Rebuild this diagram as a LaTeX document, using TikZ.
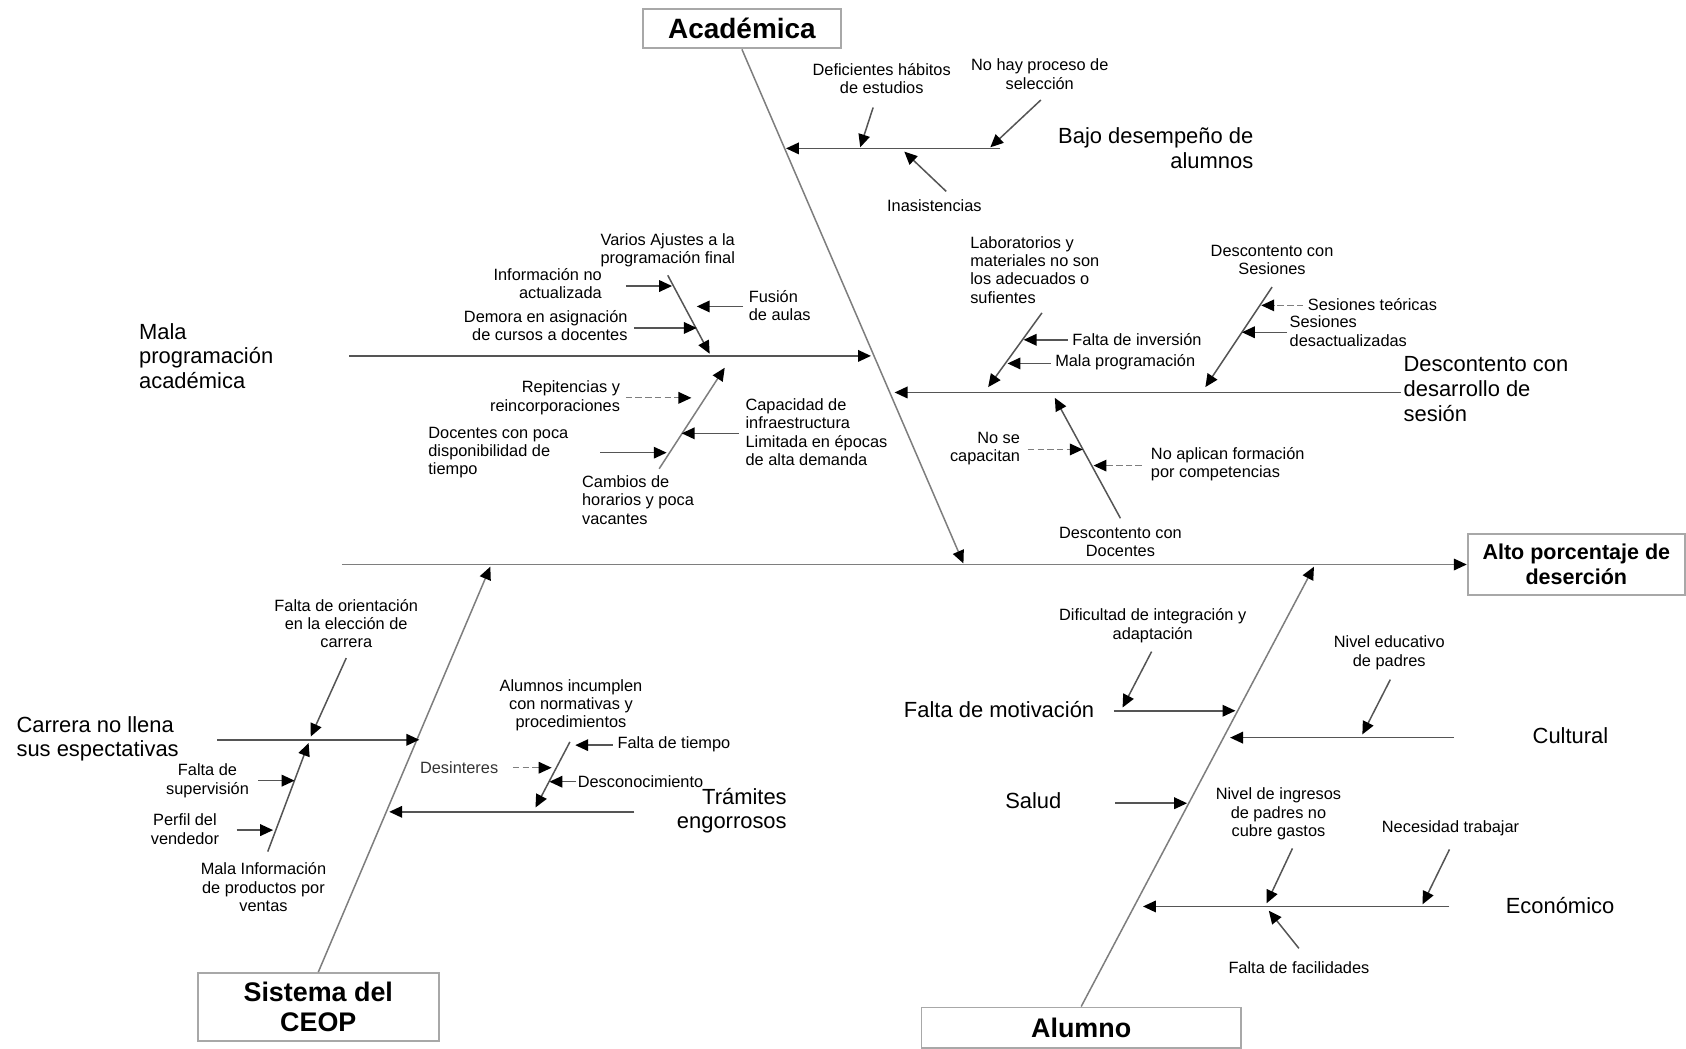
\documentclass[tikz,border=0pt]{standalone}
\usepackage{fontspec}
\setmainfont{Liberation Sans}
\usetikzlibrary{arrows.meta}
\definecolor{bonegray}{HTML}{7E7E7E}
\definecolor{twiggray}{HTML}{555555}
\definecolor{boxgray}{HTML}{A8A8A8}
\begin{document}
\begin{tikzpicture}[x=0.5pt,y=-0.5pt,
  bone/.style={draw=bonegray, line width=0.7pt},
  twig/.style={draw=twiggray, line width=0.7pt},
  faint/.style={draw=bonegray, line width=0.6pt, dash pattern=on 3pt off 1.5pt},
  head/.style={-{Triangle[length=6pt,width=5.4pt,color=black]}},
  catbox/.style={draw=boxgray, line width=0.9pt, fill=white, align=center, inner sep=0pt,
    font=\bfseries\fontsize{13}{14.5}\selectfont},
  lbl/.style={font=\fontsize{7.6}{8.5}\selectfont, inner sep=0pt},
  cause/.style={font=\fontsize{10.2}{11.5}\selectfont, inner sep=0pt},
]
\useasboundingbox (0,0) rectangle (1568,975);

% ---------- head and spine ----------
\node[catbox, font=\bfseries\fontsize{10}{11.5}\selectfont,
      minimum width=101pt, minimum height=28pt] (alto) at (1466,525) {Alto porcentaje de\\deserción};
\coordinate (spineL) at (318,525);
\draw[bone, head] (spineL) -- (alto.west);

% ---------- category boxes and main bones ----------
\node[catbox, minimum width=92pt, minimum height=18.5pt] (acad) at (690,26.5) {Académica};
\coordinate (acadEnd) at (896,524);
\draw[bone, head] (acad.south) -- (acadEnd);

\node[catbox, font=\bfseries\fontsize{12.5}{14}\selectfont,
      minimum width=112pt, minimum height=31.5pt] (ceop) at (296,936.5) {Sistema del\\CEOP};
\coordinate (ceopEnd) at (456,527);
\draw[bone, head] (ceop.north) -- (ceopEnd);

\node[catbox, font=\bfseries\fontsize{12.5}{14}\selectfont,
      minimum width=148.5pt, minimum height=19pt] (alum) at (1005.5,956) {Alumno};
\coordinate (alumEnd) at (1222,527);
\draw[bone, head] (alum.north) -- (alumEnd);

% ================= Académica =================
% Bajo desempeño de alumnos
\node[cause, align=right, anchor=east] (bajo) at (1166,138) {Bajo desempeño de\\alumnos};
\coordinate (bajoR) at (930,138);
\coordinate (bajoT) at (731,138);
\draw[twig, head] (bajoR) -- (bajoT);

\node[lbl, align=center] (habitos) at (820,73) {Deficientes hábitos\\de estudios};
\coordinate (habS) at (812,100);
\coordinate (habT) at (800,137);
\draw[twig, head] (habS) -- (habT);

\node[lbl, align=center] (selec) at (967,69) {No hay proceso de\\selección};
\coordinate (selS) at (968,93);
\coordinate (selT) at (921,137);
\draw[twig, head] (selS) -- (selT);

\node[lbl] (inasis) at (869,191) {Inasistencias};
\coordinate (inaS) at (880,178);
\coordinate (inaT) at (841,141);
\draw[twig, head] (inaS) -- (inaT);

% Mala programación académica
\node[cause, align=left, anchor=west] (malaprog) at (129,331) {Mala\\programación\\académica};
\coordinate (mpL) at (325,331);
\coordinate (mpT) at (810,331);
\draw[twig, head] (mpL) -- (mpT);

\node[lbl, align=center] (ajustes) at (621,233) {Varios Ajustes a la\\programación final};
\coordinate (ajS) at (621,256);
\coordinate (ajT) at (660,329);
\draw[twig, head] (ajS) -- (ajT);

\node[lbl, align=right, anchor=east] (infono) at (560,264) {Información no\\actualizada};
\coordinate (infS) at (582,266);
\coordinate (infT) at (625,266);
\draw[twig, head] (infS) -- (infT);

\node[lbl, align=left, anchor=west] (fusion) at (696,284) {Fusión\\de aulas};
\coordinate (fusS) at (691,285);
\coordinate (fusT) at (648,285);
\draw[twig, head] (fusS) -- (fusT);

\node[lbl, align=right, anchor=east] (demora) at (584,303) {Demora en asignación\\de cursos a docentes};
\coordinate (demS) at (590,305);
\coordinate (demT) at (648,305);
\draw[twig, head] (demS) -- (demT);

\node[lbl, align=left, anchor=west] (cambios) at (541,465) {Cambios de\\horarios y poca\\vacantes};
\coordinate (camS) at (613,436);
\coordinate (camT) at (674,342);
\draw[bone, head] (camS) -- (camT);

\node[lbl, align=right, anchor=east] (repit) at (577,370) {Repitencias y\\reincorporaciones};
\coordinate (repS) at (582,370);
\coordinate (repT) at (643,370);
\draw[faint, head] (repS) -- (repT);

\node[lbl, align=left, anchor=west] (capac) at (693,402) {Capacidad de\\infraestructura\\Limitada en épocas\\de alta demanda};
\coordinate (capS) at (687,403);
\coordinate (capT) at (634,403);
\draw[twig, head] (capS) -- (capT);

\node[lbl, align=left, anchor=west] (docpoca) at (398,421) {Docentes con poca\\disponibilidad de\\tiempo};
\coordinate (dpS) at (558,421);
\coordinate (dpT) at (620,421);
\draw[twig, head] (dpS) -- (dpT);

% Descontento con desarrollo de sesión
\node[cause, align=left, anchor=west, font=\fontsize{10.2}{11.75}\selectfont] (desarr) at (1305,362) {Descontento con\\desarrollo de\\sesión};
\coordinate (ddR) at (1303,365);
\coordinate (ddT) at (832,365);
\draw[twig, head] (ddR) -- (ddT);

\node[lbl, align=left, anchor=west] (labs) at (902,251) {Laboratorios y\\materiales no son\\los adecuados o\\sufientes};
\coordinate (labS) at (969,291);
\coordinate (labT) at (919,360);
\draw[twig, head] (labS) -- (labT);

\node[lbl, anchor=west] (inversion) at (997,316) {Falta de inversión};
\coordinate (invS) at (993,316);
\coordinate (invT) at (952,316);
\draw[twig, head] (invS) -- (invT);

\node[lbl, anchor=west] (malap2) at (981,337) {Mala programación};
\coordinate (mp2S) at (977,338);
\coordinate (mp2T) at (937,338);
\draw[twig, head] (mp2S) -- (mp2T);

\node[lbl, align=center] (sesiones) at (1183,242) {Descontento con\\Sesiones};
\coordinate (sesS) at (1183,267);
\coordinate (sesT) at (1121,360);
\draw[twig, head] (sesS) -- (sesT);

\node[lbl, anchor=west] (teoricas) at (1216,283) {Sesiones teóricas};
\coordinate (teoS) at (1212,284);
\coordinate (teoT) at (1173,284);
\draw[faint, head] (teoS) -- (teoT);

\node[lbl, align=left, anchor=west] (desact) at (1199,308) {Sesiones\\desactualizadas};
\coordinate (desS) at (1197,309);
\coordinate (desT) at (1155,309);
\draw[twig, head] (desS) -- (desT);

\node[lbl, align=center] (docentes) at (1042,504) {Descontento con\\Docentes};
\coordinate (docS) at (1042,482);
\coordinate (docT) at (981,370);
\draw[twig, head] (docS) -- (docT);

\node[lbl, align=right, anchor=east] (capacitan) at (949,417) {No se\\capacitan};
\coordinate (capaS) at (956,418);
\coordinate (capaT) at (1007,418);
\draw[faint, head] (capaS) -- (capaT);

\node[lbl, align=left, anchor=west] (aplican) at (1070,432) {No aplican formación\\por competencias};
\coordinate (aplS) at (1062,433);
\coordinate (aplT) at (1017,433);
\draw[faint, head] (aplS) -- (aplT);

% ================= Sistema del CEOP =================
\node[cause, align=left, anchor=west] (carrera) at (15,687) {Carrera no llena\\sus espectativas};
\coordinate (carL) at (202,688);
\coordinate (carT) at (390,688);
\draw[twig, head] (carL) -- (carT);

\node[lbl, align=center] (orient) at (322,580) {Falta de orientación\\en la elección de\\carrera};
\coordinate (oriS) at (322,612);
\coordinate (oriT) at (289,685);
\draw[twig, head] (oriS) -- (oriT);

\node[lbl, align=center] (malainfo) at (245,825) {Mala Información\\de productos por\\ventas};
\coordinate (miS) at (249,792);
\coordinate (miT) at (287,691);
\draw[twig, head] (miS) -- (miT);

\node[lbl, align=center] (superv) at (193,726) {Falta de\\supervisión};
\coordinate (supS) at (240,726);
\coordinate (supT) at (274,726);
\draw[twig, head] (supS) -- (supT);

\node[lbl, align=center] (perfil) at (172,771) {Perfil del\\vendedor};
\coordinate (perS) at (220,772);
\coordinate (perT) at (254,772);
\draw[twig, head] (perS) -- (perT);

\node[cause, align=right, anchor=east] (tramites) at (732,754) {Trámites\\engorrosos};
\coordinate (traR) at (590,755);
\coordinate (traT) at (362,755);
\draw[twig, head] (traR) -- (traT);

\node[lbl, align=center] (incumplen) at (531,656) {Alumnos incumplen\\con normativas y\\procedimientos};
\coordinate (incS) at (530,690);
\coordinate (incT) at (498,751);
\draw[twig, head] (incS) -- (incT);

\node[lbl, anchor=west] (tiempo) at (574,692) {Falta de tiempo};
\coordinate (tieS) at (570,693);
\coordinate (tieT) at (535,693);
\draw[twig, head] (tieS) -- (tieT);

\node[lbl, text=black!80] (desint) at (427,714) {Desinteres};
\coordinate (dinS) at (477,714);
\coordinate (dinT) at (513,714);
\draw[faint, head] (dinS) -- (dinT);

\node[lbl, anchor=west] (descon) at (537,727) {Desconocimiento};
\coordinate (dcoS) at (536,727);
\coordinate (dcoT) at (511,727);
\draw[twig, head] (dcoS) -- (dcoT);

% ================= Alumno =================
\node[cause, anchor=east] (motiv) at (1018,660) {Falta de motivación};
\coordinate (motL) at (1036,661);
\coordinate (motT) at (1149,661);
\draw[twig, head] (motL) -- (motT);

\node[lbl, align=center] (dificultad) at (1072,582) {Dificultad de integración y\\adaptación};
\coordinate (difS) at (1071,606);
\coordinate (difT) at (1044,658);
\draw[twig, head] (difS) -- (difT);

\node[cause, anchor=west] (cultural) at (1425,684) {Cultural};
\coordinate (culR) at (1352,686);
\coordinate (culT) at (1144,686);
\draw[twig, head] (culR) -- (culT);

\node[lbl, align=center] (niveledu) at (1292,607) {Nivel educativo\\de padres};
\coordinate (neS) at (1293,632);
\coordinate (neT) at (1267,683);
\draw[twig, head] (neS) -- (neT);

\node[cause] (salud) at (961,745) {Salud};
\coordinate (salL) at (1037,747);
\coordinate (salT) at (1104,747);
\draw[twig, head] (salL) -- (salT);

\node[cause, anchor=west] (econ) at (1400,842) {Económico};
\coordinate (ecoR) at (1348,843);
\coordinate (ecoT) at (1063,843);
\draw[twig, head] (ecoR) -- (ecoT);

\node[lbl, align=center] (ingresos) at (1189,757) {Nivel de ingresos\\de padres no\\cubre gastos};
\coordinate (ingS) at (1202,789);
\coordinate (ingT) at (1178,840);
\draw[twig, head] (ingS) -- (ingT);

\node[lbl] (necesidad) at (1349,770) {Necesidad trabajar};
\coordinate (necS) at (1348,790);
\coordinate (necT) at (1323,841);
\draw[twig, head] (necS) -- (necT);

\node[lbl] (facil) at (1208,900) {Falta de facilidades};
\coordinate (facS) at (1208,882);
\coordinate (facT) at (1180,847);
\draw[twig, head] (facS) -- (facT);

\end{tikzpicture}
\end{document}
